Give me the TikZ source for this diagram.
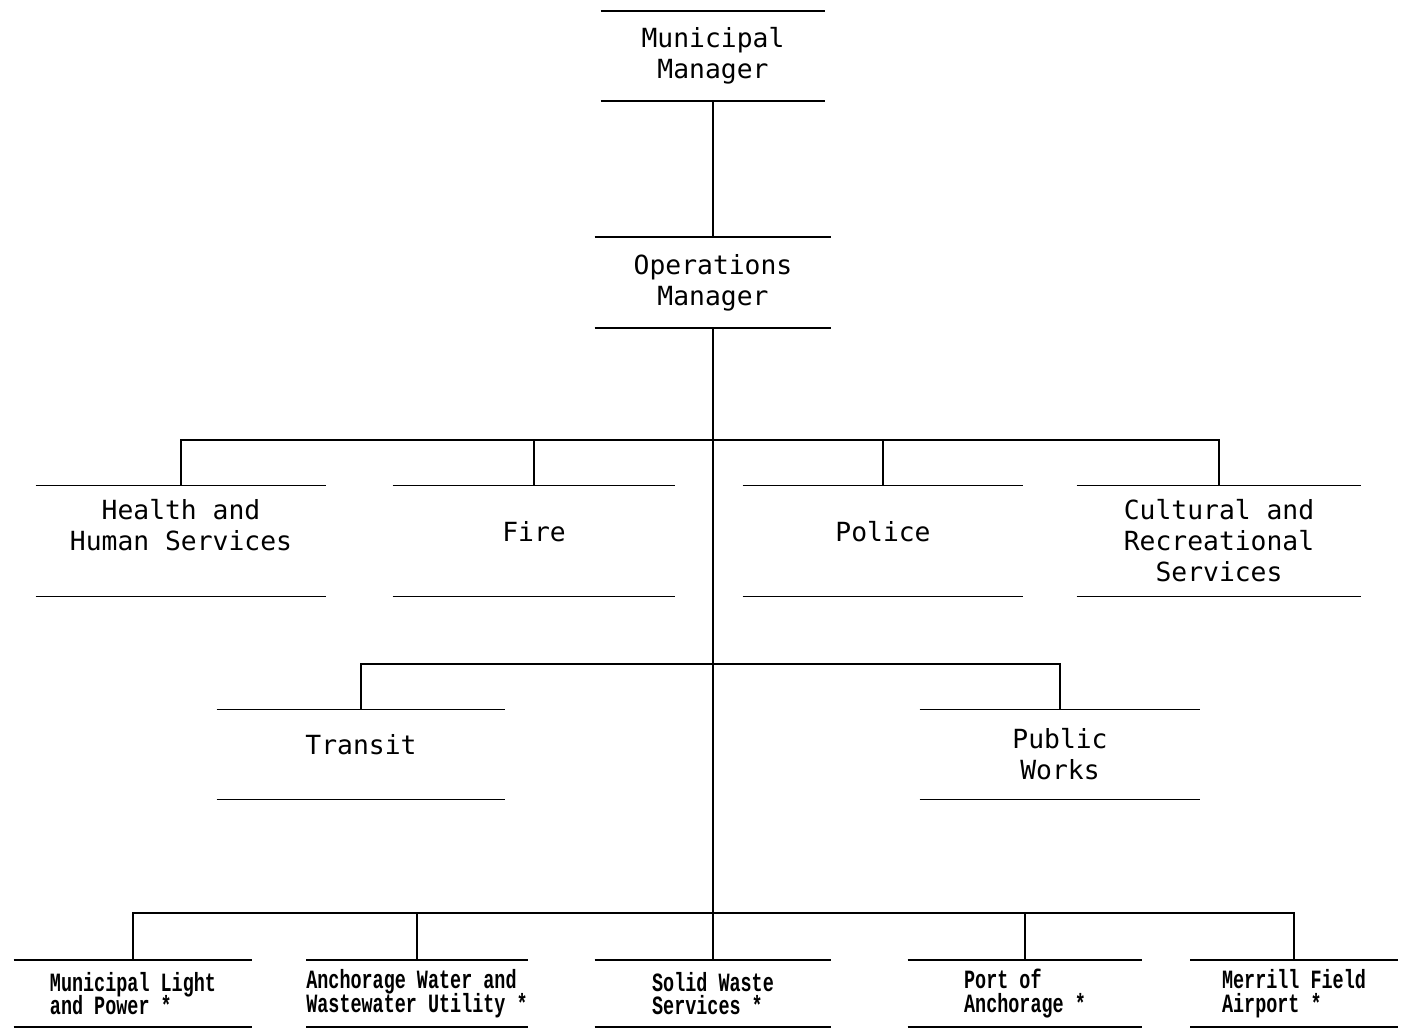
\documentclass[tikz,border=0pt]{standalone}
\usepackage{fontspec}
\usepackage{tikz}
\usetikzlibrary{calc}
\newfontfamily\typer{DejaVu Sans Mono}
\newfontfamily\printer[FakeStretch=0.7]{Liberation Mono}
\newcommand\printerfont{\printer\bfseries\fontsize{15}{13.5}\selectfont\lineskiplimit=-20pt\relax}

\begin{document}
\begin{tikzpicture}[
    x=0.02cm, y=-0.02cm,
    unit/.style={inner sep=0pt, outer sep=0pt, align=center, font=\typer\fontsize{15}{17.6}\selectfont},
    head/.style={unit, minimum height=1.8cm},
    dept/.style={unit, minimum height=2.22cm},
    util/.style={unit, minimum height=1.34cm, align=left, font=\printerfont},
    rule/.style={line width=0.9pt},
    link/.style={line width=0.8pt}
]
\useasboundingbox (0,0) rectangle (1423,1029);

% managers
\node[head, minimum width=4.5cm] (mm) at (713,56) {Municipal\\Manager};
\node[head, minimum width=4.74cm, minimum height=1.82cm] (om) at (713,282.5) {Operations\\Manager};

% departments
\node[dept, minimum width=5.82cm, text depth=18pt] (hhs) at (181,541) {Health and\\Human Services};
\node[dept, minimum width=5.66cm, text depth=11pt] (fire) at (534,541) {Fire};
\node[dept, minimum width=5.62cm, text depth=11pt] (police) at (883,541) {Police};
\node[dept, minimum width=5.7cm] (crs) at (1219,541) {Cultural and\\Recreational\\Services};
\node[head, minimum width=5.78cm, text depth=11pt] (transit) at (361,754.5) {Transit};
\node[head, minimum width=5.62cm] (pw) at (1060,754.5) {Public\\Works};

% utilities
\node[util, minimum width=4.78cm] (mlp) at (133,993.5) {Municipal Light\\and Power *};
\node[util, minimum width=4.22cm] (awwu) at (417,993.5) {Anchorage Water and\\Wastewater Utility *};
\node[util, minimum width=4.74cm] (sws) at (713,993.5) {Solid Waste\\Services *};
\node[util, minimum width=4.7cm] (poa) at (1025,993.5) {Port of\\Anchorage *};
\node[util, minimum width=4.16cm] (mfa) at (1294,993.5) {Merrill Field\\Airport *};

\foreach \n in {mm,om,hhs,fire,police,crs,transit,pw,mlp,awwu,sws,poa,mfa}
    \draw[rule] (\n.north west) -- (\n.north east) (\n.south west) -- (\n.south east);

\coordinate (bus1) at (713,440);
\coordinate (bus2) at (713,664);
\coordinate (bus3) at (713,913);

\draw[link] (mm.south) -- (om.north);
\draw[link] (om.south) -- (sws.north);
\draw[link] (hhs.north) |- (bus1) -| (crs.north);
\draw[link] (transit.north) |- (bus2) -| (pw.north);
\draw[link] (mlp.north) |- (bus3) -| (mfa.north);
\foreach \n/\b in {fire/bus1, police/bus1, awwu/bus3, poa/bus3}
    \draw[link] (\n.north) -- (\n.north |- \b);
\end{tikzpicture}
\end{document}
